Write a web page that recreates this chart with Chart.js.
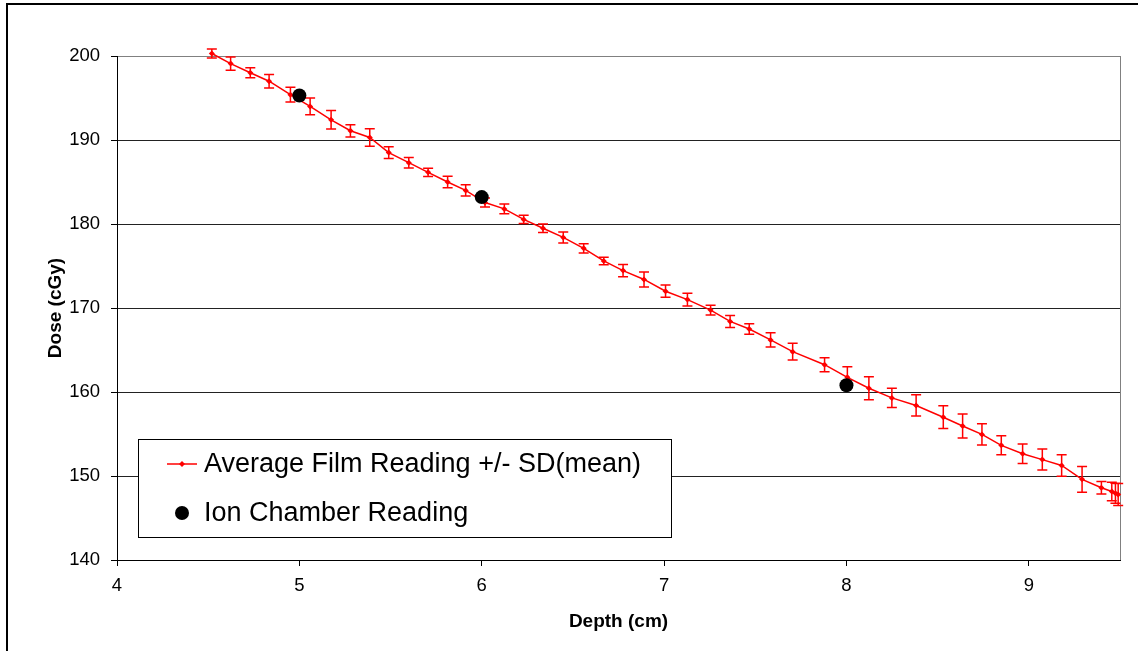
<!DOCTYPE html>
<html>
<head>
<meta charset="utf-8">
<title>Dose vs Depth</title>
<script src="https://cdn.jsdelivr.net/npm/chart.js@4.4.1/dist/chart.umd.min.js"></script>
<style>
  html, body { margin: 0; padding: 0; background: #fff; }
  #wrap { position: relative; width: 1138px; height: 651px; overflow: hidden; }
  canvas { display: block; }
</style>
</head>
<body>
<div id="wrap"><canvas id="doseChart" width="1138" height="651"></canvas></div>
<script>
// film samples: depth (cm), mean dose (cGy), SD of the mean
const filmDepth = [4.52, 4.623, 4.731, 4.834, 4.951, 5.059, 5.174, 5.28, 5.386, 5.49,
    5.6, 5.706, 5.813, 5.912, 6.018, 6.124, 6.23, 6.336, 6.447, 6.559,
    6.669, 6.775, 6.89, 7.008, 7.128, 7.255, 7.362, 7.467, 7.584, 7.705,
    7.88, 8.005, 8.123, 8.249, 8.382, 8.531, 8.637, 8.743, 8.849, 8.966,
    9.074, 9.18, 9.292, 9.398, 9.455, 9.475, 9.49];
const filmDose = [200.3, 199.1, 198.0, 197.0, 195.4, 194.0, 192.4, 191.1, 190.3, 188.5,
    187.3, 186.15, 185.0, 184.0, 182.55, 181.8, 180.55, 179.5, 178.4, 177.1,
    175.6, 174.45, 173.4, 172.0, 171.0, 169.75, 168.4, 167.5, 166.2, 164.8,
    163.25, 161.75, 160.45, 159.3, 158.4, 157.0, 155.95, 154.95, 153.65, 152.65,
    151.95, 151.25, 149.6, 148.6, 148.15, 147.95, 147.8];
const filmSd = [0.54, 0.79, 0.6, 0.81, 0.87, 1.0, 1.1, 0.73, 1.03, 0.7,
    0.62, 0.5, 0.67, 0.67, 0.54, 0.58, 0.5, 0.5, 0.65, 0.56,
    0.44, 0.73, 0.89, 0.73, 0.77, 0.58, 0.71, 0.62, 0.85, 1.0,
    0.83, 1.27, 1.37, 1.15, 1.27, 1.35, 1.43, 1.27, 1.13, 1.15,
    1.25, 1.29, 1.53, 0.75, 1.1, 1.2, 1.3];

// ion chamber points
const chamberDepth = [5, 6, 8];
const chamberDose = [195.3, 183.2, 160.8];

const depthTicks = [4, 5, 6, 7, 8, 9];
const doseTicks = [140, 150, 160, 170, 180, 190, 200];

const FONT = 'Arial, "Liberation Sans", sans-serif';

// outer frame + right edge of the plot area
const frame = {
    id: 'frame',
    beforeDraw(chart) {
        const {ctx, width, height} = chart;
        ctx.save();
        ctx.fillStyle = '#fff';
        ctx.fillRect(0, 0, width, height);
        ctx.strokeStyle = '#000';
        ctx.lineWidth = 2;
        ctx.beginPath();
        ctx.moveTo(7, height + 5);
        ctx.lineTo(7, 4);
        ctx.lineTo(width + 5, 4);
        ctx.stroke();
        ctx.restore();
    },
    beforeDatasetsDraw(chart) {
        const {ctx, chartArea: a} = chart;
        ctx.save();
        ctx.strokeStyle = '#808080';
        ctx.lineWidth = 1;
        ctx.beginPath();
        ctx.moveTo(Math.round(a.right) + 0.5, a.top);
        ctx.lineTo(Math.round(a.right) + 0.5, a.bottom);
        ctx.stroke();
        ctx.restore();
    }
};

// +/- SD whiskers on the film series
const errorBars = {
    id: 'errorBars',
    beforeDatasetDraw(chart, args) {
        if (args.index !== 0) return;
        const {ctx, scales: {x, y}} = chart;
        ctx.save();
        ctx.strokeStyle = 'rgb(255, 0, 0)';
        ctx.globalAlpha = 1;
        ctx.lineWidth = 1.5;
        ctx.beginPath();
        filmDose.forEach((d, i) => {
            const px = x.getPixelForValue(filmDepth[i]);
            const top = y.getPixelForValue(d + filmSd[i]);
            const bot = y.getPixelForValue(d - filmSd[i]);
            ctx.moveTo(px, top); ctx.lineTo(px, bot);
            ctx.moveTo(px - 5, top); ctx.lineTo(px + 5, top);
            ctx.moveTo(px - 5, bot); ctx.lineTo(px + 5, bot);
        });
        ctx.stroke();
        ctx.restore();
    }
};

// boxed legend sitting inside the plot
const boxLegend = {
    id: 'boxLegend',
    afterDraw(chart) {
        const {ctx} = chart;
        const ds = chart.data.datasets;
        const bx = 138.5, by = 439.5, bw = 533, bh = 98;
        ctx.save();
        ctx.fillStyle = '#fff';
        ctx.strokeStyle = '#000';
        ctx.lineWidth = 1;
        ctx.fillRect(bx, by, bw, bh);
        ctx.strokeRect(bx, by, bw, bh);

        ctx.font = '27px ' + FONT;
        ctx.fillStyle = '#000';
        ctx.textBaseline = 'middle';
        ctx.textAlign = 'left';

        // film series: line with marker
        const y1 = 464;
        ctx.strokeStyle = ds[0].borderColor;
        ctx.lineWidth = 1.5;
        ctx.beginPath();
        ctx.moveTo(167, y1); ctx.lineTo(197, y1);
        ctx.stroke();
        ctx.fillStyle = ds[0].borderColor;
        ctx.beginPath();
        ctx.moveTo(182, y1 - 3); ctx.lineTo(185, y1); ctx.lineTo(182, y1 + 3); ctx.lineTo(179, y1);
        ctx.closePath();
        ctx.fill();
        ctx.fillStyle = '#000';
        ctx.fillText(ds[0].label, 204, y1 + 1);

        // ion chamber: filled dot
        const y2 = 513;
        ctx.beginPath();
        ctx.arc(182, y2, 7, 0, Math.PI * 2);
        ctx.fill();
        ctx.fillText(ds[1].label, 204, y2 + 1);
        ctx.restore();
    }
};

new Chart(document.getElementById('doseChart'), {
    type: 'scatter',
    data: {
        datasets: [{
            label: 'Average Film Reading +/- SD(mean)',
            data: filmDepth.map((d, i) => ({x: d, y: filmDose[i]})),
            showLine: true,
            borderColor: '#ff0000',
            backgroundColor: '#ff0000',
            borderWidth: 1.5,
            pointStyle: 'rectRot',
            pointRadius: 3,
            pointBorderWidth: 0,
            tension: 0,
            clip: false,
            order: 1
        }, {
            label: 'Ion Chamber Reading',
            data: chamberDepth.map((d, i) => ({x: d, y: chamberDose[i]})),
            showLine: false,
            backgroundColor: '#000',
            borderColor: '#000',
            pointRadius: 7,
            pointBorderWidth: 0,
            clip: false,
            order: 0
        }]
    },
    options: {
        responsive: false,
        animation: false,
        events: [],
        layout: {padding: {top: 56, right: 18, left: 0, bottom: 0}},
        plugins: {
            legend: {display: false},
            tooltip: {enabled: false}
        },
        scales: {
            x: {
                type: 'linear',
                min: 4,
                max: 9.5,
                afterBuildTicks: s => { s.ticks = depthTicks.map(v => ({value: v})); },
                afterFit: s => { s.height = 91; },
                grid: {drawOnChartArea: false, drawTicks: true, tickLength: 6, tickColor: '#000'},
                border: {display: true, color: '#000', width: 1},
                ticks: {color: '#000', padding: 9, font: {family: FONT, size: 18.5}},
                title: {
                    display: true,
                    text: 'Depth (cm)',
                    color: '#000',
                    font: {family: FONT, size: 19, weight: 'bold'},
                    padding: {top: 0, bottom: 18}
                }
            },
            y: {
                min: 140,
                max: 200,
                afterBuildTicks: s => { s.ticks = doseTicks.map(v => ({value: v})); },
                afterFit: s => { s.width = 117; },
                grid: {
                    drawOnChartArea: true,
                    drawTicks: true,
                    tickLength: 6,
                    tickColor: '#000',
                    color: c => (c.tick && c.tick.value === 200) ? '#808080' : '#222'
                },
                border: {display: true, color: '#000', width: 1},
                ticks: {color: '#000', padding: 11, font: {family: FONT, size: 18.5}},
                title: {
                    display: true,
                    text: 'Dose (cGy)',
                    color: '#000',
                    font: {family: FONT, size: 19, weight: 'bold'},
                    padding: {top: 44, bottom: 0}
                }
            }
        }
    },
    plugins: [frame, errorBars, boxLegend]
});
</script>
</body>
</html>
